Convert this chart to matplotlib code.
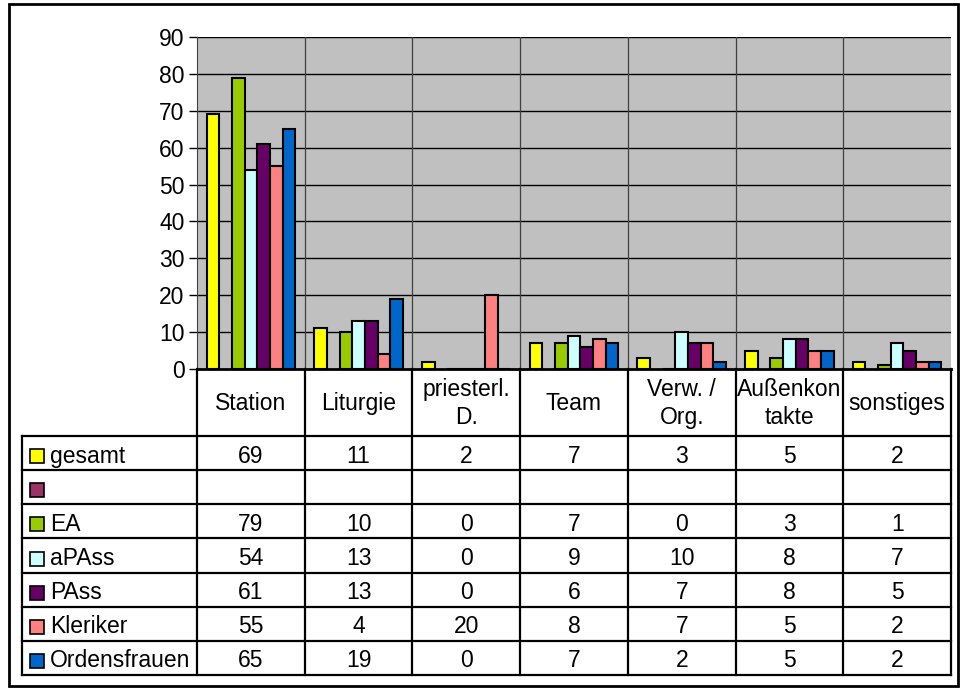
import matplotlib
matplotlib.use('Agg')
import matplotlib.pyplot as plt
from matplotlib.patches import Rectangle

categories = ['Station', 'Liturgie', 'priesterl.\nD.', 'Team', 'Verw. /\nOrg.',
              'Außenkon\ntakte', 'sonstiges']
series_names = ['gesamt', '', 'EA', 'aPAss', 'PAss', 'Kleriker', 'Ordensfrauen']
gesamt = [69, 11, 2, 7, 3, 5, 2]
leer = [None, None, None, None, None, None, None]
ea = [79, 10, 0, 7, 0, 3, 1]
apass = [54, 13, 0, 9, 10, 8, 7]
pass_ = [61, 13, 0, 6, 7, 8, 5]
kleriker = [55, 4, 20, 8, 7, 5, 2]
ordensfrauen = [65, 19, 0, 7, 2, 5, 2]
series = [gesamt, leer, ea, apass, pass_, kleriker, ordensfrauen]
colors = ['#FFFF00', '#993366', '#99CC00', '#CCFFFF', '#660066', '#FF8080', '#0066CC']
yticks = list(range(0, 100, 10))

plt.rcParams['font.family'] = ['Liberation Sans', 'DejaVu Sans']
fs = 16.5

W, H = 965, 689
fig = plt.figure(figsize=(W / 100, H / 100), dpi=100)

# plot area in pixels
px0, px1, py0, py1 = 197, 951, 37, 369
ax = fig.add_axes([px0 / W, 1 - py1 / H, (px1 - px0) / W, (py1 - py0) / H])
ax.set_facecolor('#C0C0C0')
ax.set_xlim(0, len(categories))
ax.set_ylim(0, 90)

n = len(series)
slot = 1 / (n + 1.5)
for i, vals in enumerate(series):
    for c, v in enumerate(vals):
        if v is None:
            continue
        ax.bar(c + 0.75 * slot + (i + 0.5) * slot, v, width=slot,
               color=colors[i], edgecolor='black', linewidth=1.5, zorder=3)

for y in yticks[1:]:
    ax.axhline(y, color='black', linewidth=1, zorder=1)
for c in range(1, len(categories)):
    ax.axvline(c, color='#404040', linewidth=0.9, zorder=1)

ax.set_yticks(yticks)
ax.set_xticks([])
ax.tick_params(axis='y', labelsize=fs, length=6, width=1, pad=3)
for s in ['top', 'right']:
    ax.spines[s].set_visible(False)
ax.spines['left'].set_color('#404040')
ax.spines['bottom'].set_linewidth(2)

# data table drawn in pixel coordinates
ov = fig.add_axes([0, 0, 1, 1], zorder=5)
ov.set_xlim(0, W)
ov.set_ylim(H, 0)
ov.axis('off')
ov.patch.set_alpha(0)

tx0 = 22
cw = (px1 - px0) / len(categories)
head_top, head_bot = py1, 436
row_h = (675 - head_bot) / n
tbot = head_bot + n * row_h
lw = 1.6

# header row
for c in range(len(categories) + 1):
    x = px0 + c * cw
    ov.plot([x, x], [head_top, tbot], color='black', lw=lw)
for c, name in enumerate(categories):
    ov.text(px0 + (c + 0.5) * cw, (head_top + head_bot) / 2 + 1, name, ha='center',
            va='center', fontsize=fs, linespacing=1.3)

# series rows
ov.plot([tx0, tx0], [head_bot, tbot], color='black', lw=lw)
for r in range(n + 1):
    y = head_bot + r * row_h
    ov.plot([tx0, px1], [y, y], color='black', lw=lw)
for r, name in enumerate(series_names):
    yc = head_bot + (r + 0.5) * row_h + 3
    ov.add_patch(Rectangle((30, yc - 7), 14, 14, facecolor=colors[r],
                           edgecolor='black', lw=1.2))
    ov.text(50, yc, name, ha='left', va='center', fontsize=fs)
    for c, v in enumerate(series[r]):
        if v is None:
            continue
        ov.text(px0 + (c + 0.5) * cw, yc, str(v), ha='center', va='center',
                fontsize=fs)

# outer frame
ov.add_patch(Rectangle((9, 4), 949, 682, facecolor='none', edgecolor='black', lw=2))

fig.savefig('out.png', dpi=100)
